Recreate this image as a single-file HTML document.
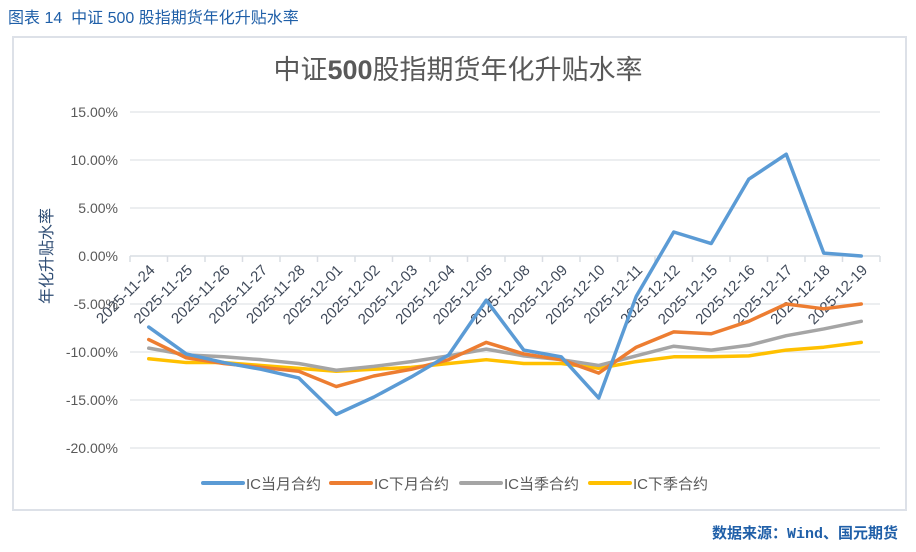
<!DOCTYPE html>
<html><head><meta charset="utf-8"><style>
body{margin:0;background:#fff;width:916px;height:552px;overflow:hidden;font-family:"Liberation Sans","Noto Sans CJK SC",sans-serif;}
svg{display:block}
</style></head><body>
<svg id="chart" width="916" height="552">
<text x="8" y="23" font-size="16" fill="#1f5fa8" xml:space="preserve">图表 14  中证 500 股指期货年化升贴水率</text>
<rect x="13" y="37" width="893" height="473" fill="#fff" stroke="#dde1e8" stroke-width="2"/>
<text x="458" y="79" text-anchor="middle" font-size="27" fill="#595959">中证<tspan font-weight="bold">500</tspan>股指期货年化升贴水率</text>
<text transform="translate(52,256) rotate(-90)" text-anchor="middle" font-size="16" fill="#2f4d74">年化升贴水率</text>
<g id="grid"></g><g id="ylabels"></g><g id="xaxis"></g><g id="series"></g><g id="legend"></g>
<text x="898" y="538" text-anchor="end" font-size="15" font-weight="bold" fill="#1f5fa8" font-family="'Liberation Mono','Noto Sans CJK SC',monospace">数据来源：Wind、国元期货</text>
</svg>
<script>
const categories=["2025-11-24","2025-11-25","2025-11-26","2025-11-27","2025-11-28","2025-12-01","2025-12-02","2025-12-03","2025-12-04","2025-12-05","2025-12-08","2025-12-09","2025-12-10","2025-12-11","2025-12-12","2025-12-15","2025-12-16","2025-12-17","2025-12-18","2025-12-19"];
const seriesNames=["IC当月合约","IC下月合约","IC当季合约","IC下季合约"];
const seriesColors=["#5b9bd5","#ed7d31","#a5a5a5","#ffc000"];
const icCurrentMonth=[-7.4,-10.2,-11.1,-11.8,-12.7,-16.5,-14.7,-12.6,-10.3,-4.6,-9.8,-10.5,-14.8,-4.2,2.5,1.3,8.0,10.6,0.3,0.0];
const icNextMonth=[-8.7,-10.6,-11.2,-11.6,-12.0,-13.6,-12.5,-11.8,-10.8,-9.0,-10.2,-10.8,-12.2,-9.5,-7.9,-8.1,-6.8,-5.0,-5.5,-5.0];
const icCurrentQuarter=[-9.6,-10.3,-10.5,-10.8,-11.2,-11.9,-11.5,-11.0,-10.4,-9.7,-10.4,-10.8,-11.4,-10.4,-9.4,-9.8,-9.3,-8.3,-7.6,-6.8];
const icNextQuarter=[-10.7,-11.1,-11.1,-11.4,-11.7,-12.0,-11.8,-11.6,-11.2,-10.8,-11.2,-11.2,-11.7,-11.0,-10.5,-10.5,-10.4,-9.8,-9.5,-9.0];
const yTicks=[15,10,5,0,-5,-10,-15,-20];
const yTickLabels=["15.00%","10.00%","5.00%","0.00%","-5.00%","-10.00%","-15.00%","-20.00%"];

const NS="http://www.w3.org/2000/svg";
const X0=130,X1=880,Y0=256,PX=9.6;
const step=(X1-X0)/categories.length;
const xs=i=>X0+step*(i+0.5);
const ys=v=>Y0-v*PX;
function mk(tag,attrs,parent){const e=document.createElementNS(NS,tag);for(const k in attrs)e.setAttribute(k,attrs[k]);parent.appendChild(e);return e;}
const grid=document.getElementById('grid'),yl=document.getElementById('ylabels'),xa=document.getElementById('xaxis'),sg=document.getElementById('series'),lg=document.getElementById('legend');
yTicks.forEach((t,i)=>{
  if(t!==0){const l=mk('line',{x1:X0,x2:X1,y1:ys(t),y2:ys(t),stroke:'#e0e3e8','stroke-width':1.2},grid);
  
  }
  const tx=mk('text',{x:118,y:ys(t)+5,'text-anchor':'end','font-size':14,fill:'#595959'},yl);
  tx.textContent=yTickLabels[i];
  
  
});
const ax=mk('line',{x1:X0,x2:X1,y1:Y0,y2:Y0,stroke:'#d9dde3','stroke-width':1.5},xa);


for(let i=0;i<=categories.length;i++){const x=X0+step*i;const t=mk('line',{x1:x,x2:x,y1:Y0,y2:Y0+6,stroke:'#d9dde3','stroke-width':1.5},xa);

}
categories.forEach((c,i)=>{
  const x=xs(i)+7,y=Y0+15;
  const t=mk('text',{x:x,y:y,'text-anchor':'end','font-size':15,fill:'#404a5a',transform:`rotate(-45 ${x} ${y})`},xa);
  t.textContent=c;
  
  
});
const allSeries=[icCurrentMonth,icNextMonth,icCurrentQuarter,icNextQuarter];
const sNames=['series-ic-current-month','series-ic-next-month','series-ic-current-quarter','series-ic-next-quarter'];
allSeries.slice().reverse().forEach((d,ri)=>{
  const k=allSeries.length-1-ri;
  const p=mk('polyline',{points:d.map((v,i)=>xs(i)+','+ys(v)).join(' '),fill:'none',stroke:seriesColors[k],'stroke-width':3.5,'stroke-linejoin':'round','stroke-linecap':'round'},sg);
  
  
});
const lx=[203,331,461,590];
seriesNames.forEach((n,k)=>{
  const g=mk('g',{},lg);
  
  
  mk('line',{x1:lx[k],x2:lx[k]+40,y1:483,y2:483,stroke:seriesColors[k],'stroke-width':4,'stroke-linecap':'round'},g);
  const t=mk('text',{x:lx[k]+43,y:489,'font-size':15,fill:'#595959'},g);
  t.textContent=n;
});
</script>
</body></html>
